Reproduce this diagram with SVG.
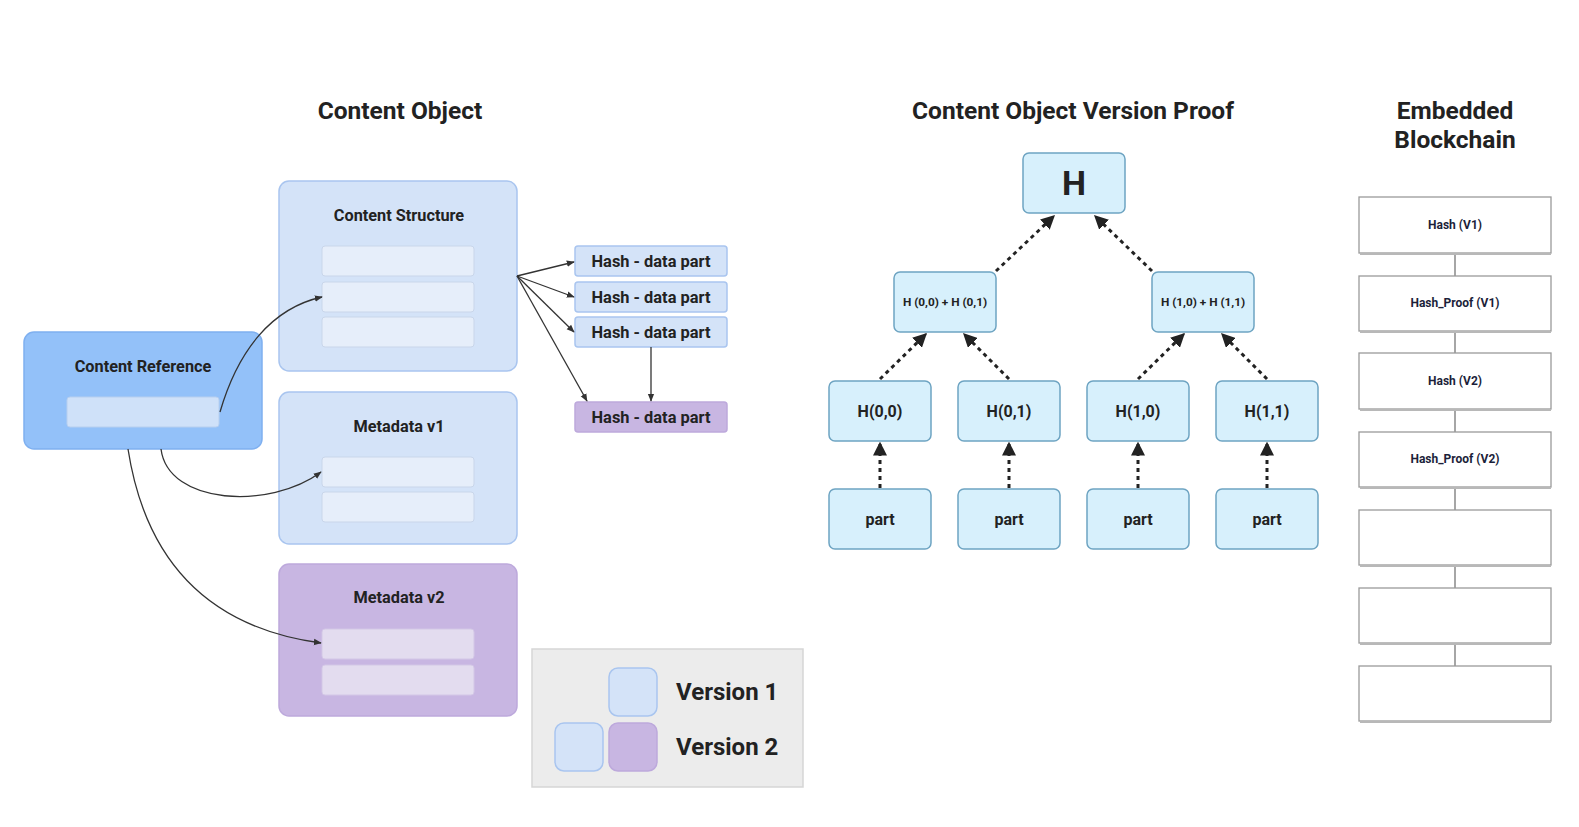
<svg xmlns="http://www.w3.org/2000/svg" width="1579" height="827" viewBox="0 0 1579 827">
<style>
text{font-family:Roboto,"Liberation Sans",sans-serif;font-weight:bold;fill:#222;text-anchor:middle;dominant-baseline:central}
.title{font-size:24.5px}
.v1{fill:#d4e3f8;stroke:#a9c5ef;stroke-width:1.5}
.v2{fill:#c8b6e2;stroke:#bda9dc;stroke-width:1.5}
.ref{fill:#93c1f9;stroke:#7fb0f0;stroke-width:1.5}
.in1{fill:#e6eefa;stroke:#c9d6ea;stroke-width:1}
.in2{fill:#e3dcef;stroke:#d3c7e6;stroke-width:1}
.inr{fill:#cfe1f9;stroke:#b7cfef;stroke-width:1}
.hb{font-size:16.4px}
.lb{font-size:16.3px}
.mk{fill:#d7f0fc;stroke:#6ea4c2;stroke-width:1.5}
.bc{fill:#fff;stroke:#9a9a9a;stroke-width:1.3}
.bcs{stroke:#b8b8b8;stroke-width:2}
.bct{font-size:12px;fill:#1c1f3a}
.conn{fill:none;stroke:#333;stroke-width:1.3}
.dot{fill:none;stroke:#222;stroke-width:3;stroke-dasharray:4 4}
.chain{stroke:#888;stroke-width:1.5}
</style>
<defs>
<marker id="a" viewBox="0 0 10 10" refX="9" refY="5" markerWidth="8" markerHeight="8" orient="auto" markerUnits="userSpaceOnUse"><path d="M0,1 L10,5 L0,9 Z" fill="#333"/></marker>
<marker id="b" viewBox="0 0 10 10" refX="9" refY="5" markerWidth="14" markerHeight="14" orient="auto" markerUnits="userSpaceOnUse"><path d="M0,0 L10,5 L0,10 Z" fill="#222"/></marker>
</defs>
<rect width="1579" height="827" fill="#fff"/>

<text class="title" x="400" y="110">Content Object</text>
<text class="title" x="1073" y="110">Content Object Version Proof</text>
<text class="title" x="1455" y="110">Embedded</text>
<text class="title" x="1455" y="139">Blockchain</text>

<g id="content-structure">
<rect class="v1" x="279" y="181" width="238" height="190" rx="10"/>
<text class="lb" x="399" y="215">Content Structure</text>
<rect class="in1" x="322" y="246" width="152" height="30" rx="3"/>
<rect class="in1" x="322" y="282" width="152" height="30" rx="3"/>
<rect class="in1" x="322" y="317" width="152" height="30" rx="3"/>
</g>
<g id="metadata-v1">
<rect class="v1" x="279" y="392" width="238" height="152" rx="10"/>
<text class="lb" x="399" y="426">Metadata v1</text>
<rect class="in1" x="322" y="457" width="152" height="30" rx="3"/>
<rect class="in1" x="322" y="492" width="152" height="30" rx="3"/>
</g>
<g id="metadata-v2">
<rect class="v2" x="279" y="564" width="238" height="152" rx="10"/>
<text class="lb" x="399" y="597">Metadata v2</text>
<rect class="in2" x="322" y="629" width="152" height="30" rx="3"/>
<rect class="in2" x="322" y="665" width="152" height="30" rx="3"/>
</g>
<g id="content-reference">
<rect class="ref" x="24" y="332" width="238" height="117" rx="10"/>
<text class="lb" x="143" y="366">Content Reference</text>
<rect class="inr" x="67" y="397" width="152" height="30" rx="3"/>
</g>

<g id="hash1"><rect class="v1" x="575" y="246" width="152" height="30" rx="3"/><text class="hb" x="651" y="261">Hash - data part</text></g>
<g id="hash2"><rect class="v1" x="575" y="282" width="152" height="30" rx="3"/><text class="hb" x="651" y="297">Hash - data part</text></g>
<g id="hash3"><rect class="v1" x="575" y="317" width="152" height="30" rx="3"/><text class="hb" x="651" y="332">Hash - data part</text></g>
<g id="hash4"><rect class="v2" x="575" y="402" width="152" height="30" rx="3"/><text class="hb" x="651" y="417">Hash - data part</text></g>

<g id="legend">
<rect x="532" y="649" width="271" height="138" fill="#ececec" stroke="#d6d6d6" stroke-width="1.5"/>
<rect class="v1" x="609" y="668" width="48" height="48" rx="9"/>
<rect class="v1" x="555" y="723" width="48" height="48" rx="9"/>
<rect class="v2" x="609" y="723" width="48" height="48" rx="9"/>
<text x="676" y="692" style="font-size:24px;text-anchor:start">Version 1</text>
<text x="676" y="747" style="font-size:24px;text-anchor:start">Version 2</text>
</g>

<g id="merkle-H"><rect class="mk" x="1023" y="153" width="102" height="60" rx="6"/><text x="1074" y="183" style="font-size:34px">H</text></g>
<g id="merkle-m0"><rect class="mk" x="894" y="272" width="102" height="60" rx="6"/><text x="945" y="302" style="font-size:11.8px">H (0,0) + H (0,1)</text></g>
<g id="merkle-m1"><rect class="mk" x="1152" y="272" width="102" height="60" rx="6"/><text x="1203" y="302" style="font-size:11.8px">H (1,0) + H (1,1)</text></g>
<g id="leaf00"><rect class="mk" x="829" y="381" width="102" height="60" rx="6"/><text x="880" y="411" style="font-size:16px">H(0,0)</text></g>
<g id="leaf01"><rect class="mk" x="958" y="381" width="102" height="60" rx="6"/><text x="1009" y="411" style="font-size:16px">H(0,1)</text></g>
<g id="leaf10"><rect class="mk" x="1087" y="381" width="102" height="60" rx="6"/><text x="1138" y="411" style="font-size:16px">H(1,0)</text></g>
<g id="leaf11"><rect class="mk" x="1216" y="381" width="102" height="60" rx="6"/><text x="1267" y="411" style="font-size:16px">H(1,1)</text></g>
<g id="part0"><rect class="mk" x="829" y="489" width="102" height="60" rx="6"/><text x="880" y="519" style="font-size:16px">part</text></g>
<g id="part1"><rect class="mk" x="958" y="489" width="102" height="60" rx="6"/><text x="1009" y="519" style="font-size:16px">part</text></g>
<g id="part2"><rect class="mk" x="1087" y="489" width="102" height="60" rx="6"/><text x="1138" y="519" style="font-size:16px">part</text></g>
<g id="part3"><rect class="mk" x="1216" y="489" width="102" height="60" rx="6"/><text x="1267" y="519" style="font-size:16px">part</text></g>

<g id="chain-lines">
<line class="chain" x1="1455" y1="253" x2="1455" y2="276"/>
<line class="chain" x1="1455" y1="331" x2="1455" y2="353"/>
<line class="chain" x1="1455" y1="409" x2="1455" y2="432"/>
<line class="chain" x1="1455" y1="487" x2="1455" y2="510"/>
<line class="chain" x1="1455" y1="565" x2="1455" y2="588"/>
<line class="chain" x1="1455" y1="643" x2="1455" y2="666"/>
</g>
<g id="block1"><rect class="bc" x="1359" y="197" width="192" height="56"/><line class="bcs" x1="1360" y1="254" x2="1551" y2="254"/><text class="bct" x="1455" y="225">Hash (V1)</text></g>
<g id="block2"><rect class="bc" x="1359" y="276" width="192" height="55"/><line class="bcs" x1="1360" y1="332" x2="1551" y2="332"/><text class="bct" x="1455" y="303">Hash_Proof (V1)</text></g>
<g id="block3"><rect class="bc" x="1359" y="353" width="192" height="56"/><line class="bcs" x1="1360" y1="410" x2="1551" y2="410"/><text class="bct" x="1455" y="381">Hash (V2)</text></g>
<g id="block4"><rect class="bc" x="1359" y="432" width="192" height="55"/><line class="bcs" x1="1360" y1="488" x2="1551" y2="488"/><text class="bct" x="1455" y="459">Hash_Proof (V2)</text></g>
<g id="block5"><rect class="bc" x="1359" y="510" width="192" height="55"/><line class="bcs" x1="1360" y1="566" x2="1551" y2="566"/></g>
<g id="block6"><rect class="bc" x="1359" y="588" width="192" height="55"/><line class="bcs" x1="1360" y1="644" x2="1551" y2="644"/></g>
<g id="block7"><rect class="bc" x="1359" y="666" width="192" height="55"/><line class="bcs" x1="1360" y1="722" x2="1551" y2="722"/></g>

<g id="connectors">
<path class="conn" d="M517,276 L574,262" marker-end="url(#a)"/>
<path class="conn" d="M517,276 L574,297" marker-end="url(#a)"/>
<path class="conn" d="M517,276 L574,332" marker-end="url(#a)"/>
<path class="conn" d="M517,276 L587,401" marker-end="url(#a)"/>
<path class="conn" d="M651,347 L651,401" marker-end="url(#a)"/>
<path class="conn" d="M220,412 C238,350 272,308 322,297" marker-end="url(#a)"/>
<path class="conn" d="M161,449 C168,505 270,510 321,472" marker-end="url(#a)"/>
<path class="conn" d="M128,449 C150,590 240,632 321,643" marker-end="url(#a)"/>
<path class="dot" d="M880,488 L880,443" marker-end="url(#b)"/>
<path class="dot" d="M1009,488 L1009,443" marker-end="url(#b)"/>
<path class="dot" d="M1138,488 L1138,443" marker-end="url(#b)"/>
<path class="dot" d="M1267,488 L1267,443" marker-end="url(#b)"/>
<path class="dot" d="M880,379 L926,334" marker-end="url(#b)"/>
<path class="dot" d="M1009,379 L964,334" marker-end="url(#b)"/>
<path class="dot" d="M1138,379 L1184,334" marker-end="url(#b)"/>
<path class="dot" d="M1267,379 L1222,334" marker-end="url(#b)"/>
<path class="dot" d="M996,271 L1054,216" marker-end="url(#b)"/>
<path class="dot" d="M1152,271 L1095,216" marker-end="url(#b)"/>
</g>
</svg>
